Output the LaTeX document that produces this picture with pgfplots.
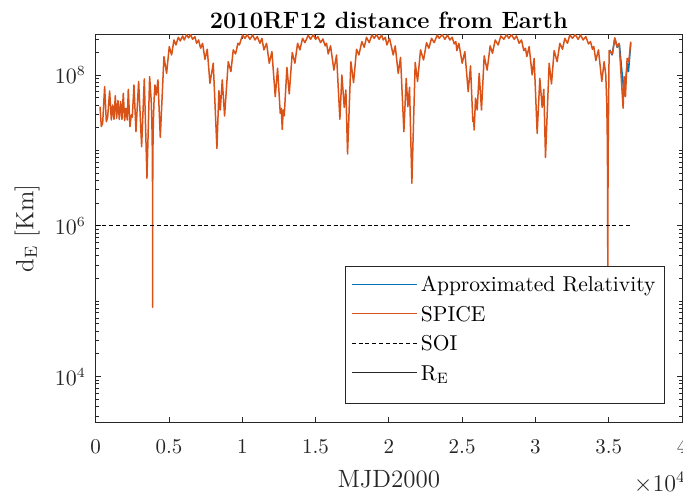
\documentclass[border=0pt]{standalone}
\usepackage{pgfplots}
\pgfplotsset{compat=1.18}
\definecolor{mblue}{rgb}{0,0.447,0.741}
\definecolor{morange}{rgb}{0.85,0.325,0.098}
\definecolor{axgray}{rgb}{0.15,0.15,0.15}
\pgfplotstableread{
x y
35074 2.15e8
35233 1.84e8
35415 3.06e8
35574 2.33e8
35733 2.5e8
36006 6.65e7
36074 8.6e7
36142 7.36e7
36256 1.43e8
36347 1.11e8
36506 2.63e8
}\approxrel
\pgfplotstableread{
x y
293 3.8e7
384 2.07e7
475 2.29e7
611 7.0e7
725 2.40e7
816 2.75e7
952 6.14e7
1066 2.53e7
1157 4.0e7
1248 2.58e7
1339 5.32e7
1430 2.66e7
1521 4.57e7
1611 2.58e7
1702 4.43e7
1793 2.58e7
1884 5.71e7
1975 2.48e7
2066 3.61e7
2157 2.53e7
2225 6.45e7
2339 2.07e7
2430 2.95e7
2498 2.75e7
2612 7.36e7
2748 1.77e7
2930 8.2e7
3134 1.12e7
3316 8.85e7
3498 4.27e6
3680 9.5e7
3784 4.7e7
3834 2.4e7
3864 1.0e7
3879 3.0e6
3884 8.3e4
3889 3.0e6
3904 1.0e7
3934 2.4e7
3984 4.7e7
4044 7.36e7
4135 5.43e7
4248 8.6e7
4407 1.49e7
4657 1.75e8
4839 1.05e8
5021 2.38e8
5180 1.84e8
5339 2.91e8
5476 2.5e8
5635 3.16e8
5771 2.82e8
5930 3.29e8
6044 2.91e8
6203 3.43e8
6339 3.10e8
6476 3.43e8
6612 2.97e8
6771 3.22e8
6885 2.63e8
7021 2.91e8
7158 2.26e8
7294 2.63e8
7453 1.61e8
7612 2.19e8
7794 7.75e7
8021 1.43e8
8271 1.06e7
8408 6.2e7
8499 3.43e7
8635 8.6e7
8794 2.86e7
9044 1.50e8
9226 1.11e8
9385 2.15e8
9544 1.90e8
9703 2.63e8
9800 2.5e8
10023 3.39e8
10182 3.06e8
10341 3.42e8
10523 2.97e8
10705 3.39e8
10864 2.91e8
11023 3.22e8
11205 2.63e8
11341 3.06e8
11478 2.15e8
11659 2.63e8
11841 1.43e8
12023 2.04e8
12250 5.16e7
12410 1.23e8
12591 3.1e7
12659 3.61e7
12728 1.90e7
12796 3.43e7
12864 2.86e7
13046 1.26e8
13205 5.6e7
13410 1.98e8
13591 1.43e8
13773 2.63e8
13932 2.15e8
14114 3.06e8
14273 2.68e8
14501 3.36e8
14660 2.97e8
14842 3.43e8
15001 2.97e8
15160 3.22e8
15342 2.68e8
15501 3.0e8
15660 2.43e8
15751 2.63e8
15864 1.90e8
16024 2.43e8
16251 1.16e8
16433 1.84e8
16660 2.58e7
16797 1.0e8
16956 3.72e7
17069 6.32e7
17183 8.95e6
17410 1.50e8
17592 7.9e7
17797 2.19e8
17956 1.84e8
18160 2.77e8
18319 2.33e8
18478 3.16e8
18660 2.68e8
18842 3.39e8
19001 3.06e8
19160 3.43e8
19342 2.97e8
19501 3.39e8
19620 2.91e8
19760 3.16e8
19866 2.5e8
20048 3.06e8
20298 1.84e8
20435 2.43e8
20639 1.05e8
20798 1.71e8
21026 1.77e7
21185 9.0e7
21298 3.8e7
21412 6.86e7
21571 3.66e6
21798 1.47e8
21958 8.2e7
22162 2.15e8
22367 1.58e8
22571 2.68e8
22730 2.26e8
22912 3.06e8
23094 2.68e8
23299 3.39e8
23435 3.06e8
23640 3.43e8
23821 2.97e8
24003 3.39e8
24162 2.91e8
24321 3.16e8
24458 2.58e8
24571 2.77e8
24640 2.10e8
24776 2.63e8
25003 1.43e8
25185 2.04e8
25413 6.0e7
25572 1.32e8
25731 2.40e7
25776 2.75e7
25822 1.86e7
25913 4.91e7
26026 3.43e7
26163 1.05e8
26322 3.43e7
26504 1.79e8
26708 1.16e8
26913 2.43e8
27072 1.94e8
27254 2.91e8
27458 2.5e8
27640 3.29e8
27845 2.97e8
28026 3.43e8
28186 3.06e8
28367 3.43e8
28549 2.97e8
28708 3.29e8
28890 2.63e8
29049 2.91e8
29208 2.10e8
29322 2.26e8
29413 1.75e8
29572 2.38e8
29777 1.0e8
29913 1.66e8
30119 1.68e7
30301 9.0e7
30460 3.72e7
30574 6.45e7
30687 8.1e6
30937 1.43e8
31096 7.6e7
31278 2.10e8
31483 1.50e8
31665 2.63e8
31847 2.19e8
32006 3.06e8
32187 2.63e8
32347 3.39e8
32528 3.06e8
32710 3.43e8
32915 2.97e8
33074 3.39e8
33256 2.91e8
33438 3.22e8
33620 2.58e8
33756 2.77e8
33892 2.19e8
33983 2.38e8
34120 1.55e8
34301 2.15e8
34529 8.2e7
34688 1.50e8
34800 1.0e8
34870 4.0e7
34910 1.2e7
34930 2.0e6
34938 1.5e5
34946 2.0e6
34966 1.2e7
35000 6.0e7
35029 2.10e8
35256 1.90e8
35415 3.10e8
35574 2.38e8
35711 2.63e8
35983 3.61e7
36051 9.5e7
36142 5.16e7
36256 1.66e8
36370 1.50e8
36506 2.77e8
}\spice
\begin{document}
\begin{tikzpicture}
\begin{axis}[
  name=ax,
  scale only axis,
  width=293.2pt, height=194.2pt,
  xmin=0, xmax=40000,
  ymode=log, ymin=2450, ymax=3.46e8,
  xtick={0,5000,...,40000},
  xticklabels={0,0.5,1,1.5,2,2.5,3,3.5,4},
  scaled x ticks=false,
  ytick={1e4,1e6,1e8},
  minor ytick={3000,4000,5000,6000,7000,8000,9000,20000,30000,40000,50000,60000,70000,80000,90000,1e5,2e5,3e5,4e5,5e5,6e5,7e5,8e5,9e5,2e6,3e6,4e6,5e6,6e6,7e6,8e6,9e6,1e7,2e7,3e7,4e7,5e7,6e7,7e7,8e7,9e7,2e8,3e8},
  tick align=inside,
  major tick length=2.6pt, minor tick length=1.5pt,
  axis line style={axgray, line width=0.5pt},
  tick style={axgray, line width=0.4pt},
  tick label style={text=axgray, font=\fontsize{10.5}{12}\selectfont},
  xticklabel style={yshift=-5pt},
  yticklabel style={xshift=-1.4pt},
  title={2010RF12 distance from Earth},
  title style={at={(0.5,1)}, anchor=base, yshift=-3pt, font=\fontsize{11.8}{14}\selectfont\bfseries},
  xlabel={MJD2000},
  xlabel style={at={(axis description cs:0.5,-0.145)}, anchor=center, font=\fontsize{12.5}{15}\selectfont, text=axgray},
  ylabel={d\textsubscript{E} [Km]},
  ylabel style={at={(axis description cs:-0.1064,0.5)}, anchor=base, font=\fontsize{12.5}{15}\selectfont, text=axgray},
  legend cell align=left,
  legend style={
    at={(rel axis cs:1,0)}, anchor=south east,
    xshift=-8.55pt, yshift=9.2pt,
    draw=axgray, line width=0.5pt, fill=white,
    font=\fontsize{10.75}{12}\selectfont,
    inner xsep=2.7pt, inner ysep=5.6pt,
    row sep=1.2pt,
    nodes={inner xsep=1.8pt, inner ysep=1.5pt, text height=5.8pt, text depth=4.7pt},
  },
  legend image code/.code={\draw[#1, line width=0.5pt] (0pt,3.25pt) -- (32.5pt,3.25pt);},
]
\addplot[mblue, line width=0.75pt, line join=round] table {\approxrel};
\addlegendentry{Approximated Relativity}
\addplot[morange, line width=0.75pt, line join=round] table {\spice};
\addlegendentry{SPICE}
\addplot[black, line width=0.5pt, dash pattern=on 2pt off 1.4pt] coordinates {(0,1e6) (36500,1e6)};
\addlegendentry{SOI}
\addplot[axgray, line width=1pt] coordinates {(0,2450) (36500,2450)};
\addlegendentry{R\textsubscript{E}}
\end{axis}
\node[anchor=east, inner sep=0pt, text=axgray, font=\fontsize{11.5}{13}\selectfont] at ([xshift=2pt,yshift=-30.2pt]ax.south east) {$\times10^{4}$};
\pgfresetboundingbox
\useasboundingbox ([xshift=-47.85pt,yshift=-36.15pt]ax.south west) rectangle ([xshift=0.5pt,yshift=17.15pt]ax.north east);
\end{tikzpicture}
\end{document}
